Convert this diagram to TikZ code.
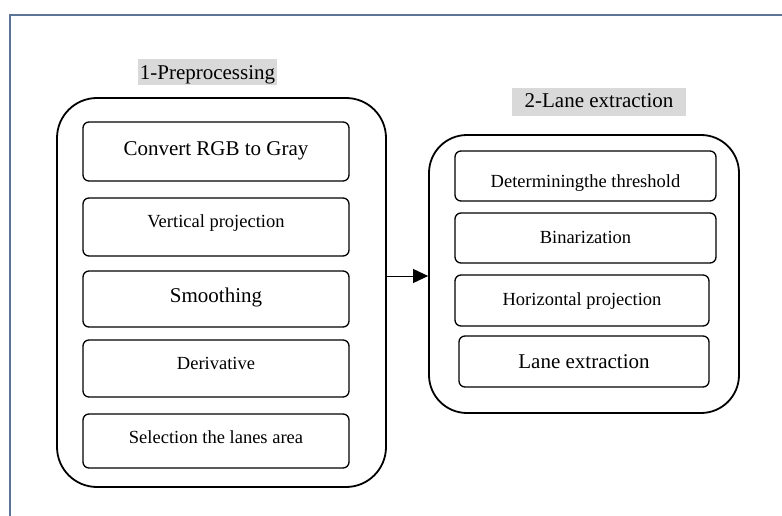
\documentclass[tikz,border=0pt]{standalone}
\usepackage{fontspec}
\setmainfont{Liberation Serif}
\usetikzlibrary{arrows.meta}
\definecolor{framecol}{RGB}{92,116,150}
\definecolor{titlebg}{RGB}{217,217,217}
\newcommand\bltx[2]{\raisebox{-#1pt}[0pt][0pt]{#2}}
\newcommand\bigtxt{\fontsize{21}{25}\selectfont}
\newcommand\smalltxt{\fontsize{18.5}{22}\selectfont}
\tikzset{
  outerbox/.style={draw=black, line width=1.8pt, rounded corners=40pt, inner sep=0pt},
  inbox/.style={draw=black, line width=1.3pt, rounded corners=6pt, inner sep=0pt},
  titlebox/.style={fill=titlebg, inner sep=0pt, font=\bigtxt},
  flowarrow/.style={draw=black, line width=1pt, -{Triangle[length=15pt,width=14pt]}}
}
\begin{document}
\begin{tikzpicture}[x=1pt,y=-1pt]
\useasboundingbox (0,0) rectangle (782,516);
% page frame
\draw[framecol, line width=1.5pt] (10,530) -- (10,15) -- (800,15);

% titles
\node[titlebox, minimum width=139pt, minimum height=26pt] (t1) at (207.5,72) {\bltx{8}{1-Preprocessing}};
\node[titlebox, minimum width=174pt, minimum height=28pt] (t2) at (599,102) {\bltx{6}{2-Lane extraction}};

% big containers
\node[outerbox, minimum width=329pt, minimum height=389pt] (L) at (221.5,292.5) {};
\node[outerbox, rounded corners=38pt, minimum width=310pt, minimum height=278pt] (R) at (584,274) {};

% left steps
\node[inbox, minimum width=266pt, minimum height=59pt, font=\bigtxt]   (l1) at (216,151.5) {\bltx{4.5}{Convert RGB to Gray}};
\node[inbox, minimum width=266pt, minimum height=58pt, font=\smalltxt] (l2) at (216,227) {\bltx{0}{Vertical projection}};
\node[inbox, minimum width=266pt, minimum height=56pt, font=\bigtxt]   (l3) at (216,299) {\bltx{3}{Smoothing}};
\node[inbox, minimum width=266pt, minimum height=57pt, font=\smalltxt] (l4) at (216,368.5) {\bltx{0.5}{Derivative}};
\node[inbox, minimum width=266pt, minimum height=54pt, font=\smalltxt] (l5) at (216,441) {\bltx{2.5}{Selection the lanes area}};

% right steps
\node[inbox, minimum width=261pt, minimum height=50pt, font=\smalltxt] (r1) at (585.5,176) {\bltx{11}{Determiningthe threshold}};
\node[inbox, minimum width=261pt, minimum height=50pt, font=\smalltxt] (r2) at (585.5,238) {\bltx{5}{Binarization}};
\node[inbox, minimum width=254pt, minimum height=51pt, font=\smalltxt] (r3) at (582,300.5) {\bltx{4.5}{Horizontal projection}};
\node[inbox, minimum width=250pt, minimum height=51pt, font=\bigtxt]   (r4) at (584,361.5) {\bltx{6.5}{Lane extraction}};

% connector
\coordinate (ay) at (0,276);
\draw[flowarrow] (L.east |- ay) -- (R.west |- ay);
\end{tikzpicture}
\end{document}
